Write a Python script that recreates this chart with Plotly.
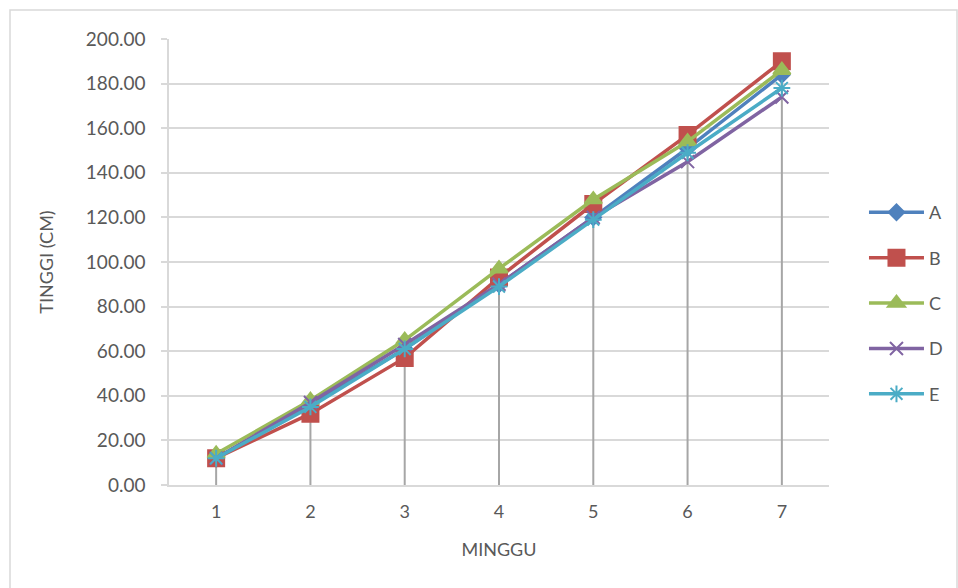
import plotly.graph_objects as go

weeks = [1, 2, 3, 4, 5, 6, 7]
series_names = ["A", "B", "C", "D", "E"]
A = [12, 36, 61, 90, 120, 151, 184]
B = [12, 32, 57, 93, 126, 157, 190]
C = [14, 38, 65, 97, 128, 154, 186]
D = [12, 37, 63, 90, 120, 145, 174]
E = [12, 35, 61, 89, 119, 149, 178]
values = [A, B, C, D, E]

colors = ["#4F81BD", "#C0504D", "#9BBB59", "#8064A2", "#4BACC6"]
symbols = ["diamond", "square", "triangle-up", "x-thin-open", "asterisk-open"]
msizes = [12, 16, 15, 13, 14]

fig = go.Figure()

# drop lines from the highest value at each week down to the axis
dx, dy = [], []
for i, w in enumerate(weeks):
    top = max(v[i] for v in values)
    dx += [w, w, None]
    dy += [top, 0, None]
fig.add_trace(go.Scatter(x=dx, y=dy, mode="lines", line=dict(color="#A6A6A6", width=2),
                         showlegend=False, hoverinfo="skip"))

for name, vals, c, s, ms in zip(series_names, values, colors, symbols, msizes):
    fig.add_trace(go.Scatter(
        x=weeks, y=vals, name=name, mode="lines+markers", legendgroup=name,
        line=dict(color=c, width=3.5),
        marker=dict(symbol=s, size=ms, color=c, line=dict(color=c, width=2)),
    ))

font_family = "Lato, 'Open Sans', sans-serif"
fig.update_layout(
    width=958, height=588,
    margin=dict(l=169, r=129, t=39, b=103, autoexpand=False),
    paper_bgcolor="white", plot_bgcolor="white",
    font=dict(family=font_family, size=18, color="#595959"),
    legend=dict(x=1.053, y=0.408, xanchor="left", yanchor="middle",
                font=dict(size=18, color="#595959"), tracegroupgap=19,
                traceorder="grouped", itemwidth=55, bgcolor="rgba(0,0,0,0)"),
    shapes=[dict(type="rect", xref="paper", yref="paper",
                 x0=(10 - 169) / 660, x1=(957 - 169) / 660,
                 y0=(485 - 620) / 446, y1=(485 - 10) / 446,
                 line=dict(color="#D9D9D9", width=1.5), layer="below")],
)
fig.update_xaxes(
    range=[0.5, 7.5], tickvals=weeks, ticktext=[str(w) for w in weeks],
    showgrid=False, showline=True, linecolor="#D9D9D9", linewidth=1.5,
    zeroline=False, ticks="", ticklabelstandoff=10, tickfont=dict(size=18),
    automargin=False,
    title=dict(text="MINGGU", standoff=22, font=dict(size=18, color="#595959")),
)
fig.update_yaxes(
    range=[0, 200], dtick=20, tickformat=".2f", tickfont=dict(size=19),
    showgrid=True, gridcolor="#D9D9D9", gridwidth=1.5,
    showline=True, linecolor="#D9D9D9", linewidth=1.5,
    ticks="outside", ticklen=6, tickcolor="#D9D9D9", tickwidth=1.5,
    zeroline=False, ticklabelstandoff=12, automargin=False,
    title=dict(text="TINGGI (CM)", standoff=28, font=dict(size=18, color="#595959")),
)

fig.write_html("out.html")
